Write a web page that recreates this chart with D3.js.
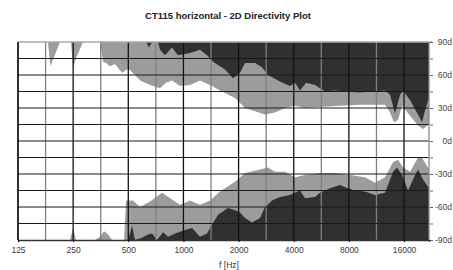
<!DOCTYPE html>
<html>
<head>
<meta charset="utf-8">
<script src="https://cdn.jsdelivr.net/npm/d3@7"></script>
<style>
  body { margin: 0; background: #fff; }
  text { font-family: "Liberation Sans", Arial, sans-serif; }
</style>
</head>
<body>
<div id="chart"></div>
<script>
const WIDTH = 453, HEIGHT = 270;
const margin = {top: 42, right: 24, bottom: 30, left: 18};

const LIGHT_COLOR = '#9c9c9c';
const DARK_COLOR = '#303030';

// tick labels
const freqTicks = [125, 250, 500, 1000, 2000, 4000, 8000, 16000];
const angleTicks = [90, 60, 30, 0, -30, -60, -90];
const angleLabels = ['90d', '60d', '30d', '0d', '-30d', '-60d', '-90d'];

// upper half: light region (90 down to this angle), dark region (90 down to this angle)
const topLightHz = [125, 182, 188, 192, 212, 243, 250, 259, 283, 350, 364, 378, 397, 423, 462, 500, 537, 580,
    657, 745, 803, 866, 958, 1086, 1232, 1311, 1432, 1583, 1912, 2168, 2460, 2788, 3162, 3585, 4065, 4610,
    5567, 7159, 9204, 12602, 13420, 14110, 14840, 15610, 17260, 19080, 20320, 21900];
const topLightDeg = [90, 90, 68, 72, 90, 90, 67, 75, 90, 90, 72, 71, 68, 70, 62, 66, 61, 55,
    51, 48, 53, 55, 50, 51, 55, 53, 50, 46, 39, 30, 27, 24, 26, 30, 32, 30,
    31, 32, 33, 33, 26, 17, 19, 32, 23, 14, 11, 15];

const topDarkHz = [125, 625, 649, 674, 727, 745, 793, 866, 934, 1086, 1232, 1345, 1450, 1686, 1865, 2036,
    2168, 2460, 2685, 2896, 3366, 3817, 4065, 4330, 4669, 5228, 5929, 6722, 7623, 9204, 10440, 12602,
    13420, 14290, 15220, 15800, 17260, 19080, 20060, 20840, 21900];
const topDarkDeg = [90, 90, 85, 90, 90, 83, 78, 85, 78, 80, 83, 78, 72, 65, 57, 62,
    71, 71, 67, 60, 54, 50, 53, 46, 53, 51, 45, 46, 45, 44, 45, 46,
    42, 25, 42, 46, 37, 24, 17, 28, 39];

// lower half: light region (-90 up to this angle), dark region (-90 up to this angle)
const botLightHz = [125, 240, 250, 259, 329, 350, 369, 388, 407, 474, 486, 531, 580, 657, 764, 845, 958,
    1086, 1232, 1397, 1583, 1912, 2168, 2619, 2896, 3162, 3585, 4065, 4610, 5567, 6722, 8117, 9800,
    11110, 12602, 13940, 14840, 15800, 17260, 19080, 20060, 21900];
const botLightDeg = [-90, -90, -79, -90, -90, -87, -82, -85, -90, -90, -54, -54, -60, -55, -47, -52, -58,
    -54, -58, -54, -46, -37, -29, -26, -24, -28, -28, -33, -31, -29, -29, -31, -33,
    -38, -33, -19, -17, -24, -28, -15, -15, -26];

const botDarkHz = [125, 500, 524, 544, 594, 641, 674, 717, 774, 824, 900, 1020, 1114, 1232, 1345, 1432,
    1545, 1751, 1912, 2036, 2168, 2368, 2619, 2788, 3045, 3366, 3817, 4065, 4330, 4610, 5228, 5567,
    6313, 7159, 7623, 8645, 9800, 11110, 12602, 13940, 14650, 15610, 16830, 18380, 19080, 20320, 21900];
const botDarkDeg = [-90, -90, -77, -90, -88, -85, -84, -90, -83, -87, -84, -81, -79, -87, -84, -76,
    -67, -61, -63, -65, -70, -74, -70, -60, -54, -51, -49, -47, -45, -52, -51, -47,
    -43, -40, -42, -45, -46, -49, -47, -28, -24, -31, -45, -31, -26, -35, -43];

const plotW = WIDTH - margin.left - margin.right;
const plotH = HEIGHT - margin.top - margin.bottom;

let svg = d3.select("#chart")
    .append("svg")
    .attr("width", WIDTH)
    .attr("height", HEIGHT);

let g = svg.append("g")
    .attr("transform", `translate(${margin.left}, ${margin.top})`);

let x = d3.scaleLog()
    .domain([125, 21900])
    .range([0, plotW]);
let y = d3.scaleLinear()
    .domain([90, -90])
    .range([0, plotH]);

function pairs(hz, deg) {
    return hz.map((f, i) => ({f: f, a: deg[i]}));
}

let topArea = d3.area()
    .x(d => x(d.f))
    .y0(y(90))
    .y1(d => y(d.a));
let botArea = d3.area()
    .x(d => x(d.f))
    .y0(y(-90))
    .y1(d => y(d.a));

g.append("path").datum(pairs(topLightHz, topLightDeg)).attr("d", topArea).attr("fill", LIGHT_COLOR);
g.append("path").datum(pairs(topDarkHz, topDarkDeg)).attr("d", topArea).attr("fill", DARK_COLOR);
g.append("path").datum(pairs(botLightHz, botLightDeg)).attr("d", botArea).attr("fill", LIGHT_COLOR);
g.append("path").datum(pairs(botDarkHz, botDarkDeg)).attr("d", botArea).attr("fill", DARK_COLOR);

// grid: octaves black, half octaves gray
let vLines = [];
for (let k = 0; k <= 14; k++) vLines.push(125 * Math.pow(2, k / 2));
g.selectAll(".vgrid").data(vLines).enter()
    .append("line")
    .attr("x1", d => x(d)).attr("x2", d => x(d))
    .attr("y1", 0).attr("y2", plotH)
    .attr("stroke", (d, i) => i % 2 == 0 ? "#111" : "#808080")
    .attr("stroke-width", 1.3);

let hLines = d3.range(-75, 90, 15);
g.selectAll(".hgrid").data(hLines).enter()
    .append("line")
    .attr("x1", 0).attr("x2", plotW)
    .attr("y1", d => y(d)).attr("y2", d => y(d))
    .attr("stroke", "#1a1a1a")
    .attr("stroke-width", 1.2);

// frame
g.append("line").attr("x1", 0).attr("x2", plotW + 3).attr("y1", 0).attr("y2", 0)
    .attr("stroke", "#aaa").attr("stroke-width", 1.5);
g.append("line").attr("x1", 0).attr("x2", 0).attr("y1", 0).attr("y2", plotH)
    .attr("stroke", "#111").attr("stroke-width", 1.3);
g.append("line").attr("x1", plotW).attr("x2", plotW).attr("y1", 0).attr("y2", plotH)
    .attr("stroke", "#888").attr("stroke-width", 1.3);

// bottom axis
let xAxis = g.append("g")
    .attr("transform", `translate(0, ${plotH})`)
    .call(d3.axisBottom(x).tickValues(freqTicks).tickFormat(d3.format("d")).tickSize(2).tickPadding(5));
xAxis.select(".domain").attr("stroke", "#333").attr("stroke-width", 1.3);
xAxis.selectAll("text").style("font-size", "8.5px").attr("fill", "#3a3a3a");

// right axis
let yAxis = g.append("g")
    .attr("transform", `translate(${plotW + 1}, 0)`)
    .call(d3.axisRight(y).tickValues(d3.range(-90, 91, 15)).tickFormat("").tickSize(3));
yAxis.select(".domain").remove();
yAxis.selectAll("line").attr("stroke", "#666");

g.selectAll(".alabel").data(angleTicks).enter()
    .append("text")
    .attr("x", WIDTH - margin.left - 1)
    .attr("y", d => y(d) + 3)
    .style("text-anchor", "end")
    .style("font-size", "8.5px")
    .attr("fill", "#444")
    .text((d, i) => angleLabels[i]);

svg.append("text")
    .attr("x", 228).attr("y", 19)
    .style("text-anchor", "middle")
    .style("font-size", "9.5px")
    .style("font-weight", "bold")
    .attr("fill", "#222")
    .text("CT115 horizontal - 2D Directivity Plot");

svg.append("text")
    .attr("x", 229).attr("y", 268)
    .style("text-anchor", "middle")
    .style("font-size", "8.5px")
    .attr("fill", "#333")
    .text("f [Hz]");
</script>
</body>
</html>
